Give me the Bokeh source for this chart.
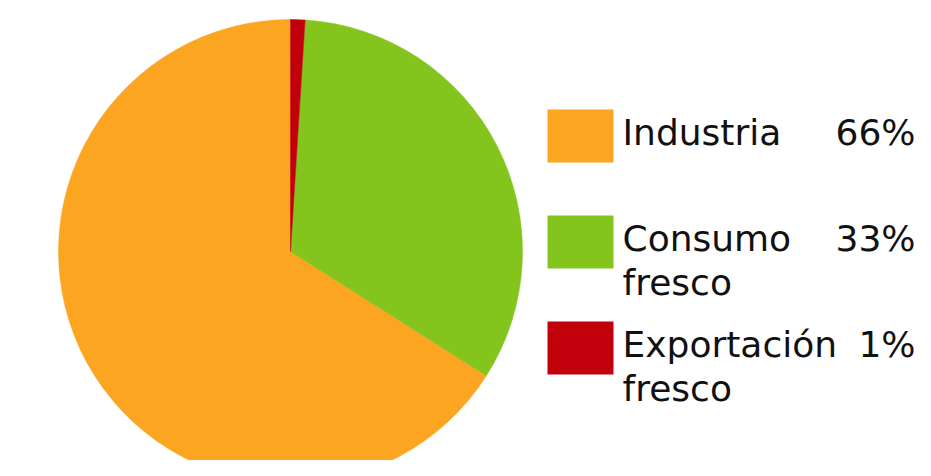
import numpy as np
from bokeh.plotting import figure
from bokeh.models import Range1d, ColumnDataSource
from bokeh.core.properties import value
from bokeh.embed import file_html
from bokeh.resources import INLINE

categories = ["Industria", "Consumo fresco", "Exportación fresco"]
values = [66, 33, 1]
pct_labels = ["66%", "33%", "1%"]
colors = ["#FCA521", "#83C51D", "#C1000C"]

W, H = 915, 460
p = figure(width=W, height=H, output_backend="svg", toolbar_location=None,
           x_range=Range1d(0, W), y_range=Range1d(-H, 0),
           min_border=0, outline_line_color=None, background_fill_color="white")
p.axis.visible = False
p.grid.visible = False

vals = np.array(values, dtype=float)
frac = vals / vals.sum()
cum = np.concatenate([[0], np.cumsum(frac)])
start = np.pi / 2 + 2 * np.pi * cum[:-1]
end = np.pi / 2 + 2 * np.pi * cum[1:]

src = ColumnDataSource(dict(start=start, end=end, color=colors))
p.wedge(x=290, y=-251, radius=232, start_angle="start", end_angle="end",
        direction="anticlock", fill_color="color", line_color="color", line_width=0.5,
        source=src)

box_top = [109, 215, 321]
font = value("DejaVu Sans")
for i, cat in enumerate(categories):
    t = box_top[i]
    p.rect(x=580, y=-(t + 26.5), width=66, height=53, fill_color=colors[i], line_color=None)
    words = cat.split(" ", 1)
    base = t + 23
    p.text(x=[622], y=[-base], text=[words[0]], text_font=font, text_font_size="36px",
           text_baseline="alphabetic", text_align="left", text_color="#111111")
    if len(words) > 1:
        p.text(x=[622], y=[-(base + 44)], text=[words[1]], text_font=font, text_font_size="36px",
               text_baseline="alphabetic", text_align="left", text_color="#111111")
    p.text(x=[915], y=[-base], text=[pct_labels[i]], text_font=font, text_font_size="36px",
           text_baseline="alphabetic", text_align="right", text_color="#111111")

open("out.html", "w").write(file_html(p, INLINE))
